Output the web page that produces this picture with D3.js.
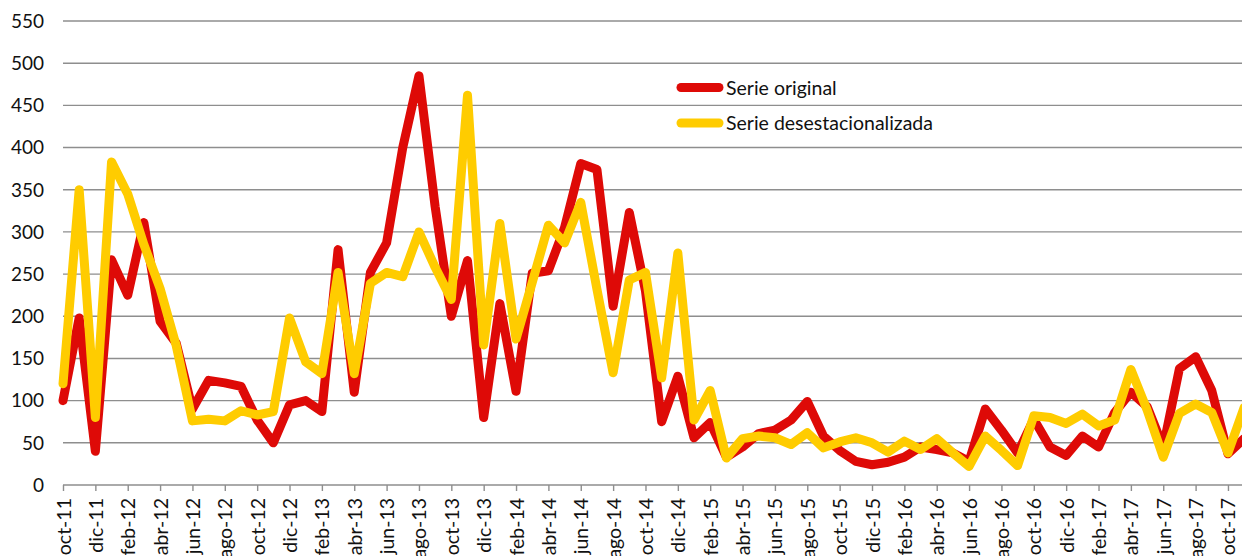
<!DOCTYPE html>
<html>
<head>
<meta charset="utf-8">
<script src="https://cdn.jsdelivr.net/npm/d3@7"></script>
<style>
  html, body { margin: 0; padding: 0; background: #fff; }
  svg { display: block; }
  text { font-family: Lato, "Open Sans", sans-serif; fill: #111; }
</style>
</head>
<body>
<svg id="chart" width="1242" height="556"></svg>
<script>
const months = [
  "oct-11","nov-11","dic-11","ene-12","feb-12","mar-12","abr-12","may-12","jun-12","jul-12","ago-12","sep-12",
  "oct-12","nov-12","dic-12","ene-13","feb-13","mar-13","abr-13","may-13","jun-13","jul-13","ago-13","sep-13",
  "oct-13","nov-13","dic-13","ene-14","feb-14","mar-14","abr-14","may-14","jun-14","jul-14","ago-14","sep-14",
  "oct-14","nov-14","dic-14","ene-15","feb-15","mar-15","abr-15","may-15","jun-15","jul-15","ago-15","sep-15",
  "oct-15","nov-15","dic-15","ene-16","feb-16","mar-16","abr-16","may-16","jun-16","jul-16","ago-16","sep-16",
  "oct-16","nov-16","dic-16","ene-17","feb-17","mar-17","abr-17","may-17","jun-17","jul-17","ago-17","sep-17",
  "oct-17","nov-17"
];

const serieOriginal = [
  100, 198, 40, 267, 225, 311, 194, 168, 90, 124, 121, 117,
  77, 50, 95, 100, 87, 279, 110, 252, 287, 400, 485, 330,
  200, 266, 80, 215, 111, 251, 254, 305, 381, 374, 212, 323,
  230, 75, 129, 56, 74, 33, 45, 61, 65, 77, 99, 58,
  41, 28, 24, 27, 33, 45, 42, 38, 28, 90, 65, 38,
  78, 45, 35, 58, 45, 86, 110, 93, 45, 138, 152, 112,
  37, 55
];

const serieDesest = [
  120, 350, 80, 383, 345, 285, 233, 165, 76, 78, 76, 88,
  83, 87, 198, 146, 132, 252, 132, 239, 252, 247, 300, 258,
  220, 462, 166, 310, 173, 240, 308, 287, 335, 232, 133, 243,
  252, 127, 275, 77, 112, 32, 55, 58, 56, 48, 62, 44,
  51, 56, 50, 39, 52, 42, 55, 38, 22, 58, 41, 23,
  82, 80, 73, 84, 70, 77, 137, 89, 33, 85, 96, 86,
  38, 92
];

const yTicks = [0, 50, 100, 150, 200, 250, 300, 350, 400, 450, 500, 550];
const seriesNames = ["Serie original", "Serie desestacionalizada"];
const seriesColors = ["#DE0A07", "#FFCC00"];

const svg = d3.select("#chart");
const plotLeft = 63, plotRight = 1242, plotTop = 21, plotBottom = 485;
const step = 16.18;

const x = d3.scalePoint().domain(months).range([plotLeft, plotLeft + step * (months.length - 1)]);
const y = d3.scaleLinear().domain([0, 550]).range([plotBottom, plotTop]);

// gridlines
svg.append("g").selectAll("line").data(yTicks.filter(d => d > 0)).join("line")
  .attr("x1", plotLeft).attr("x2", plotRight)
  .attr("y1", d => y(d)).attr("y2", d => y(d))
  .attr("stroke", "#8e8e8e").attr("stroke-width", 1.4);

// y labels
svg.append("g").selectAll("text").data(yTicks).join("text")
  .attr("x", 44).attr("y", d => y(d)).attr("dy", "0.36em")
  .attr("text-anchor", "end").attr("font-size", 19)
  .text(d => d);

// x axis
const xAxis = d3.axisBottom(x)
  .tickValues(months.filter((m, i) => i % 2 === 0))
  .tickSize(6).tickSizeOuter(0).tickPadding(8);
const gx = svg.append("g").attr("transform", `translate(0,${plotBottom})`).call(xAxis);
gx.select(".domain").attr("stroke", "#8e8e8e").attr("stroke-width", 1.4)
  .attr("d", `M${plotLeft},0H${plotRight}`);
gx.selectAll(".tick line").attr("stroke", "#8e8e8e").attr("stroke-width", 1.4);
gx.selectAll(".tick text")
  .attr("font-size", 19.5).attr("font-family", "Lato, 'Open Sans', sans-serif").attr("fill", "#111")
  .attr("transform", "rotate(-90)")
  .attr("text-anchor", "end")
  .attr("x", -13).attr("y", 0).attr("dy", "0.36em");

// lines
const line = d3.line().x((d, i) => x(months[i])).y(d => y(d));
[serieOriginal, serieDesest].forEach((s, k) => {
  svg.append("path").datum(s)
    .attr("d", line)
    .attr("fill", "none")
    .attr("stroke", seriesColors[k])
    .attr("stroke-width", 9)
    .attr("stroke-linejoin", "round")
    .attr("stroke-linecap", "round");
});

// legend
const lg = svg.append("g");
seriesNames.forEach((n, k) => {
  const ly = 87.5 + k * 35.5;
  lg.append("line").attr("x1", 681).attr("x2", 719).attr("y1", ly).attr("y2", ly)
    .attr("stroke", seriesColors[k]).attr("stroke-width", 9).attr("stroke-linecap", "round");
  lg.append("text").attr("x", 726).attr("y", ly).attr("dy", "0.36em")
    .attr("font-size", 19.5).text(n);
});
</script>
</body>
</html>
